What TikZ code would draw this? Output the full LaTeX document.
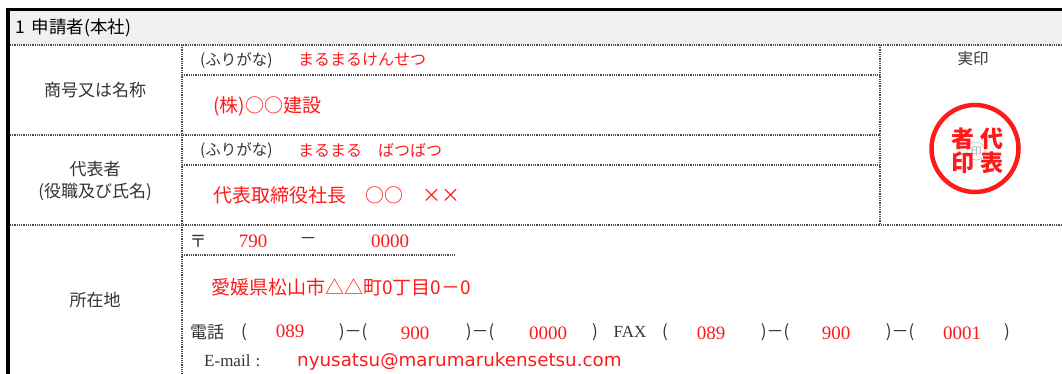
\documentclass[tikz,border=0pt]{standalone}
\usepackage{fontspec}
\setmainfont{Liberation Serif}
\newfontfamily\jp{Noto Sans CJK JP}
\newfontfamily\mailfont{DejaVu Sans}
\definecolor{hdrgray}{HTML}{F0F0F0}
\definecolor{inkred}{HTML}{FF1A1A}
\definecolor{ink}{HTML}{333333}

\begin{document}
\begin{tikzpicture}[x=1pt,y=-1pt,
    every node/.style={inner sep=0pt},
    rule/.style={draw=black!70,line width=2.1pt,dash pattern=on 1pt off 0.8pt},
    frame/.style={draw=black,line width=3.8pt},
    headtxt/.style={text=black,font=\jp\fontsize{17.5}{19}\selectfont},
    rowtxt/.style={text=ink,font=\jp\fontsize{17}{19}\selectfont},
    furitxt/.style={text=ink,font=\jp\fontsize{15.5}{17}\selectfont},
    furired/.style={text=inkred,font=\jp\fontsize{16}{18}\selectfont},
    redtxt/.style={text=inkred,font=\jp\fontsize{19}{21}\selectfont},
    rednum/.style={text=inkred,font=\fontsize{19}{21}\selectfont},
    sealchar/.style={text=inkred,font=\jp\bfseries\fontsize{23}{23}\selectfont}]
     		\useasboundingbox (0,0) rectangle (1062,374);
     		\fill[hdrgray] (8,11) rectangle (1062,45);
     		\draw[rule] (10,45) -- (1062,45);
     		\draw[rule] (182,45) -- (182,374);
     		\draw[rule] (880,45) -- (880,225);
     		\draw[rule] (182,75) -- (880,75);
     		\draw[rule] (10,135) -- (880,135);
     		\draw[rule] (182,165) -- (880,165);
     		\draw[rule] (10,225) -- (1062,225);
     		\draw[rule] (182,255) -- (455,255);
     		\draw[frame] (8,374) -- (8,9.5) -- (1062,9.5);
     		\node[headtxt,anchor=west] (title) at (15,28) {1\hspace{0.4em}申請者(本社)};
     		\node[rowtxt] (namelbl) at (95,90) {商号又は名称};
     		\node[furitxt,anchor=west] (namefuri) at (200,60) {(ふりがな)};
     		\node[furired,anchor=west] (namekana) at (298,60) {まるまるけんせつ};
     		\node[redtxt,anchor=west] (name) at (213,106) {(株)○○建設};
     		\node[rowtxt] (replbl) at (95,169) {代表者};
     		\node[rowtxt] (repsub) at (95,192) {(役職及び氏名)};
     		\node[furitxt,anchor=west] (repfuri) at (200,150) {(ふりがな)};
     		\node[furired,anchor=west] (repkana) at (298,150) {まるまる　ばつばつ};
     		\node[redtxt,anchor=west] (rep) at (213,195) {代表取締役社長　○○　××};
     		\node[furitxt] (seallbl) at (973,59) {実印};
     		\node[draw=inkred,line width=4.5pt,circle,minimum size=87pt] (seal) at (975,148.5) {};
     		\node[draw=black!25,line width=0.6pt,circle,minimum size=18pt,text=black!35,font=\jp\fontsize{11}{11}\selectfont] (sealmark) at (976,151) {印};
     		\node[sealchar] (sealA) at (992,139) {代};
     		\node[sealchar] (sealB) at (992,163) {表};
     		\node[sealchar] (sealC) at (963,139) {者};
     		\node[sealchar] (sealD) at (963,163) {印};
     		\node[rowtxt] (addrlbl) at (95,300) {所在地};
     		\node[rowtxt] (postmark) at (198,241) {〒};
     		\node[rednum] (postA) at (253,241) {790};
     		\node[rowtxt] (postdash) at (308,241) {－};
     		\node[rednum] (postB) at (390,241) {0000};
     		\node[redtxt,anchor=west] (addr) at (211,287) {愛媛県松山市△△町0丁目0－0};
     		\node[rowtxt] (tellbl) at (207,332) {電話};
     		\node[rowtxt] (telL) at (244,332) {(};
     		\node[rednum] (telA) at (290,331) {089};
     		\node[rowtxt] (telM) at (353,332) {)－(};
     		\node[rednum] (telB) at (415,333) {900};
     		\node[rowtxt] (telN) at (480,332) {)－(};
     		\node[rednum] (telC) at (548,333) {0000};
     		\node[rowtxt] (telR) at (595,332) {)};
     		\node[text=ink,font=\fontsize{17}{19}\selectfont] (faxlbl) at (630,332) {FAX};
     		\node[rowtxt] (faxL) at (665,332) {(};
     		\node[rednum] (faxA) at (711,333) {089};
     		\node[rowtxt] (faxM) at (775,332) {)－(};
     		\node[rednum] (faxB) at (836,333) {900};
     		\node[rowtxt] (faxN) at (900,332) {)－(};
     		\node[rednum] (faxC) at (962,333) {0001};
     		\node[rowtxt] (faxR) at (1007,332) {)};
     		\node[text=ink,font=\fontsize{17}{19}\selectfont,anchor=west] (maillbl) at (204,361) {E-mail\hspace{0.3em}:};
     		\node[text=inkred,font=\mailfont\fontsize{18.3}{20}\selectfont,anchor=west] (mail) at (297,361) {nyusatsu@marumarukensetsu.com};
\end{tikzpicture}
\end{document}
